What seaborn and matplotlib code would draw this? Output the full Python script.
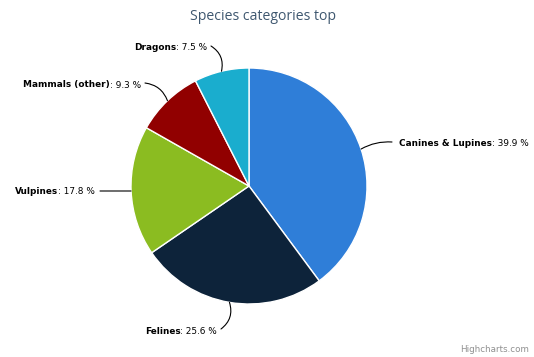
import matplotlib
matplotlib.use("Agg")
import matplotlib.pyplot as plt
import seaborn as sns
import numpy as np

sns.set_theme(style="white")
plt.rcParams['font.family'] = ['DejaVu Sans']

categories = ["Canines & Lupines", "Felines", "Vulpines", "Mammals (other)", "Dragons"]
values = [39.9, 25.6, 17.8, 9.3, 7.5]
colors = ["#2f7ed8", "#0d233a", "#8bbc21", "#910000", "#1aadce"]
title = "Species categories top"

W, H = 534, 357
fig = plt.figure(figsize=(W / 100, H / 100), dpi=100)
ax = fig.add_axes([0, 0, 1, 1])

def Y(y):
    return H - y

cx, cy, r = 249, 186, 118
wedges, _ = ax.pie(values, colors=colors, startangle=90, counterclock=False,
                   center=(cx, Y(cy)), radius=r,
                   wedgeprops=dict(edgecolor='white', linewidth=1))
ax.set_xlim(0, W)
ax.set_ylim(0, H)
ax.set_aspect('equal')
ax.axis('off')

# label layout: (text anchor x, y, side, connector start x, y, rad)
layout = [
    (399, 143, 'right', 392, 142, 0.15),
    (217, 330, 'left', 221, 329, 0.35),
    (95, 191, 'left', 100, 191, 0.0),
    (141, 84, 'left', 145, 83, -0.3),
    (207, 47, 'left', 211, 46, -0.35),
]

fs = 6.4
renderer = fig.canvas.get_renderer()
for w, cat, val, (tx, ty, side, lx, ly, rad) in zip(wedges, categories, values, layout):
    mid = np.deg2rad((w.theta1 + w.theta2) / 2)
    ex = cx + r * np.cos(mid)
    ey = Y(cy) + r * np.sin(mid)
    ax.annotate("", xy=(ex, ey), xytext=(lx, Y(ly)),
                arrowprops=dict(arrowstyle='-', color='#000000', lw=0.8,
                                shrinkA=0, shrinkB=0,
                                connectionstyle=f"arc3,rad={rad}"))
    norm = f": {val} %"
    if side == 'right':
        t1 = ax.text(tx, Y(ty), cat, fontsize=fs, fontweight='bold', color='#000000',
                     ha='left', va='center_baseline')
        bb = t1.get_window_extent(renderer)
        ax.text(tx + bb.width, Y(ty), norm, fontsize=fs, color='#000000',
                ha='left', va='center_baseline')
    else:
        t2 = ax.text(tx, Y(ty), norm, fontsize=fs, color='#000000',
                     ha='right', va='center_baseline')
        bb = t2.get_window_extent(renderer)
        ax.text(tx - bb.width, Y(ty), cat, fontsize=fs, fontweight='bold', color='#000000',
                ha='right', va='center_baseline')

ax.text(263, Y(17), title, fontsize=10.1, color='#3e576f', ha='center', va='center',
        family=['Open Sans', 'DejaVu Sans'])
ax.text(529, Y(350), "Highcharts.com", fontsize=6.3, color='#909090', ha='right', va='center')

fig.savefig("out.png", dpi=100)
